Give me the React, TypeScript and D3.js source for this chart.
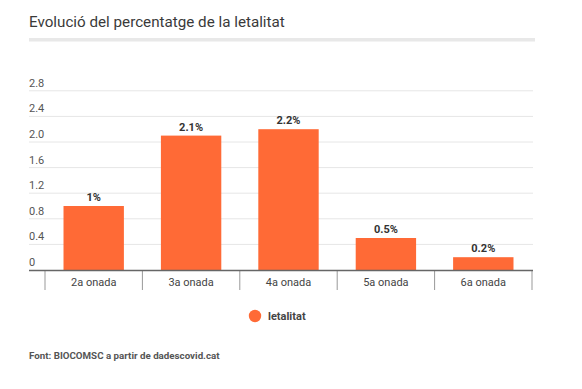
import React from 'react'
import { scaleBand, scaleLinear } from 'd3'

// Dades
const onades = ['2a onada', '3a onada', '4a onada', '5a onada', '6a onada']
const letalitat = [1.0, 2.1, 2.2, 0.5, 0.2]
const etiquetes = ['1%', '2.1%', '2.2%', '0.5%', '0.2%']
const ticksY = [0, 0.4, 0.8, 1.2, 1.6, 2.0, 2.4, 2.8]

const W = 582
const H = 389
const TARONJA = '#ff6a36'
const FONT = 'Roboto, "Noto Sans", sans-serif'

const App = () => {
    const x = scaleBand<string>()
        .domain(onades)
        .range([45, 532])
        .paddingInner(0.38)
        .paddingOuter(0.19)

    // band sense padding per als separadors
    const xSep = scaleBand<string>().domain(onades).range([45, 532])

    const y = scaleLinear()
        .domain([0, 2.8])
        .range([270, 90.8])

    return (
        <div style={{ position: 'absolute', left: 0, top: 0 }}>
            <svg width={W} height={H} style={{ display: 'block', fontFamily: FONT }}>
                <rect width={W} height={H} fill="#fff" />
                <text x={29} y={27} fontSize={15.2} fill="#3a3a3a">Evolució del percentatge de la letalitat</text>
                <rect x={29} y={38} width={506} height={3.5} fill="#e8e8e8" />

                {ticksY.map(t => (
                    <g key={t}>
                        {t > 0 && <line x1={29} x2={533} y1={y(t)} y2={y(t)} stroke="#e6e6e6" strokeWidth={1} />}
                        <text x={29} y={y(t) - 4} fontSize={11} fill="#555">{t === 0 ? '0' : t.toFixed(1)}</text>
                    </g>
                ))}

                {onades.map((d, i) => (
                    <g key={d}>
                        <rect x={x(d)} y={y(letalitat[i])} width={x.bandwidth()} height={y(0) - y(letalitat[i])} fill={TARONJA} />
                        <text x={(x(d) ?? 0) + x.bandwidth() / 2} y={y(letalitat[i]) - 5} fontSize={11} fontWeight="bold" fill="#333" textAnchor="middle">{etiquetes[i]}</text>
                        <text x={(xSep(d) ?? 0) + xSep.bandwidth() / 2} y={285.5} fontSize={11} fill="#444" textAnchor="middle">{d}</text>
                    </g>
                ))}

                {[...onades.map(d => xSep(d) ?? 0), 532].map((sx, i) => (
                    <line key={i} x1={sx} x2={sx} y1={270} y2={290} stroke="#999" strokeWidth={1} />
                ))}
                <line x1={29} x2={533} y1={270.5} y2={270.5} stroke="#666" strokeWidth={1.5} />

                <circle cx={255} cy={316} r={6.2} fill={TARONJA} />
                <text x={268} y={320} fontSize={11} fontWeight="bold" fill="#444">letalitat</text>

                <text x={29} y={358.5} fontSize={9.75} fontWeight="bold" fill="#555">Font: BIOCOMSC a partir de dadescovid.cat</text>
            </svg>
        </div>
    )
}

export default App
